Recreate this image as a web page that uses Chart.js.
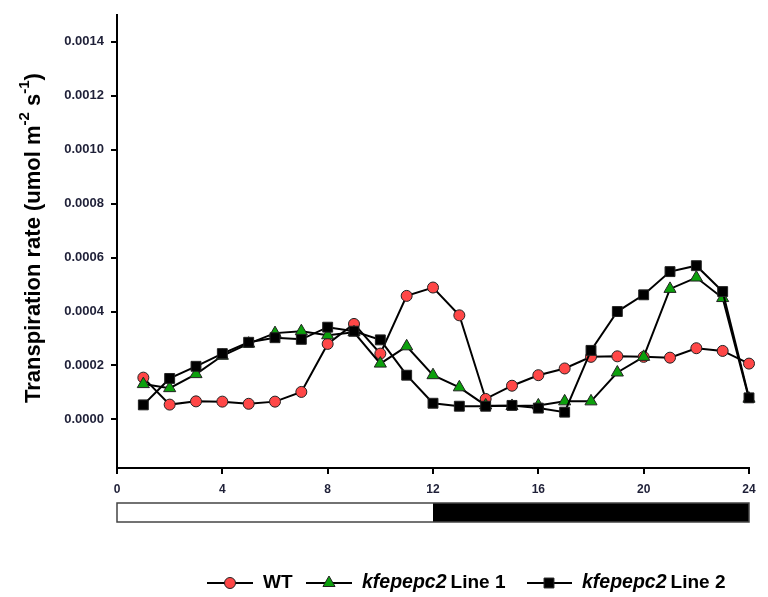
<!DOCTYPE html>
<html>
<head>
<meta charset="utf-8">
<script src="https://cdn.jsdelivr.net/npm/chart.js@4"></script>
<style>
html,body{margin:0;padding:0;background:#fff;}
#c{display:block;}
</style>
</head>
<body>
<canvas id="c" width="768" height="597"></canvas>
<script>
const hours = [1,2,3,4,5,6,7,8,9,10,11,12,13,14,15,16,17,18,19,20,21,22,23,24];
const wtValues = [0.000155,0.000055,0.000067,0.000066,0.000058,0.000066,0.000102,0.000280,0.000354,0.000244,0.000458,0.000489,0.000386,0.000076,0.000125,0.000164,0.000189,0.000232,0.000234,0.000232,0.000229,0.000264,0.000254,0.000207];
const line1Values = [0.000131,0.000116,0.000168,0.000236,0.000281,0.000320,0.000327,0.000312,0.000323,0.000207,0.000271,0.000164,0.000119,0.000052,0.000050,0.000052,0.000067,0.000067,0.000174,0.000232,0.000484,0.000526,0.000450,0.000077];
const line2Values = [0.000054,0.000152,0.000197,0.000244,0.000286,0.000303,0.000297,0.000342,0.000327,0.000295,0.000164,0.000060,0.000049,0.000049,0.000052,0.000042,0.000027,0.000256,0.000400,0.000462,0.000548,0.000570,0.000474,0.000080];
const xTickValues = [0,4,8,12,16,20,24];
const yTickValues = [0,0.0002,0.0004,0.0006,0.0008,0.0010,0.0012,0.0014];
const seriesNames = ['WT','kfepepc2','kfepepc2'];
const seriesSuffix = ['','Line 1','Line 2'];
const photoPeriods = [[0,12,'#ffffff'],[12,24,'#000000']];

const tickColor = '#1f2038';
const FONT = 'Arial, "Liberation Sans", sans-serif';

function pts(vals){ return hours.map((h,i)=>({x:h,y:vals[i]})); }

const styles = [
  {pointStyle:'circle', radius:5.5, bg:'#ff4747'},
  {pointStyle:'triangle', radius:7, bg:'#0ca00c'},
  {pointStyle:'rect', radius:7, bg:'#000000'}
];

const decor = {
  id:'decor',
  afterDraw(chart){
    const ctx = chart.ctx;
    const xs = chart.scales.x;
    // y-axis title with superscripts
    ctx.save();
    ctx.translate(34, 238);
    ctx.rotate(-Math.PI/2);
    const fs = 22, sfs = 15;
    const parts = [
      ['Transpiration rate (umol m', fs, 0],
      ['-2', sfs, -9],
      [' s', fs, 0],
      ['-1', sfs, -9],
      [')', fs, 0]
    ];
    let total = 0;
    parts.forEach(p=>{ ctx.font = 'bold '+p[1]+'px '+FONT; total += ctx.measureText(p[0]).width; });
    let px = -total/2;
    ctx.fillStyle = '#000';
    ctx.textBaseline = 'middle';
    ctx.textAlign = 'left';
    parts.forEach(p=>{ ctx.font = 'bold '+p[1]+'px '+FONT; ctx.fillText(p[0], px, p[2]); px += ctx.measureText(p[0]).width; });
    ctx.restore();

    // light / dark bar
    ctx.save();
    const top = 503, h = 19;
    photoPeriods.forEach(pp=>{
      const a = xs.getPixelForValue(pp[0]), b = xs.getPixelForValue(pp[1]);
      ctx.fillStyle = pp[2];
      ctx.fillRect(a, top, b-a, h);
    });
    const a0 = xs.getPixelForValue(photoPeriods[0][0]);
    const b0 = xs.getPixelForValue(photoPeriods[photoPeriods.length-1][1]);
    ctx.strokeStyle = '#444';
    ctx.lineWidth = 1.5;
    ctx.strokeRect(a0, top, b0-a0, h);
    ctx.restore();

    // legend
    ctx.save();
    const ly = 583;
    const items = [
      {x1:207, x2:253, mx:230, tx:263},
      {x1:306, x2:352, mx:329, tx:362},
      {x1:527, x2:572, mx:549, tx:582}
    ];
    items.forEach((it,i)=>{
      ctx.strokeStyle = '#000'; ctx.lineWidth = 2;
      ctx.beginPath(); ctx.moveTo(it.x1, ly); ctx.lineTo(it.x2, ly); ctx.stroke();
      ctx.fillStyle = styles[i].bg; ctx.strokeStyle = '#222'; ctx.lineWidth = 1;
      Chart.helpers.drawPoint(ctx, {pointStyle:styles[i].pointStyle, radius:styles[i].radius, rotation:0, borderWidth:1}, it.mx, ly);
      ctx.fillStyle = '#000';
      ctx.textBaseline = 'middle';
      ctx.textAlign = 'left';
      let tx = it.tx;
      if (i === 0) {
        ctx.font = 'bold 19px '+FONT;
        ctx.fillText(seriesNames[i], tx, ly);
      } else {
        ctx.font = 'italic bold 19.5px '+FONT;
        ctx.fillText(seriesNames[i], tx, ly);
        tx += ctx.measureText(seriesNames[i]).width + 4;
        ctx.font = 'bold 19px '+FONT;
        ctx.fillText(seriesSuffix[i], tx, ly);
      }
    });
    ctx.restore();
  }
};

const mk = (label, vals, i, order) => ({
  label, data: pts(vals), order,
  borderColor:'#000', borderWidth:2,
  pointStyle: styles[i].pointStyle, pointRadius: styles[i].radius,
  pointBackgroundColor: styles[i].bg, pointBorderColor:'#222', pointBorderWidth:1,
  tension:0, fill:false, clip:false
});

new Chart(document.getElementById('c'), {
  type:'line',
  data:{ datasets:[
    mk('WT', wtValues, 0, 2),
    mk('kfepepc2 Line 1', line1Values, 1, 1),
    mk('kfepepc2 Line 2', line2Values, 2, 0)
  ]},
  options:{
    responsive:false, animation:false, devicePixelRatio:1,
    layout:{padding:{left:0, right:19, top:11, bottom:99}},
    plugins:{legend:{display:false}, tooltip:{enabled:false}},
    scales:{
      x:{
        type:'linear', min:0, max:24,
        afterBuildTicks(s){ s.ticks = xTickValues.map(v=>({value:v})); },
        afterFit(s){ s.height = 30; },
        grid:{display:true, drawOnChartArea:false, drawTicks:true, tickLength:6, color:'#000', lineWidth:2},
        border:{display:true, color:'#000', width:2},
        ticks:{font:{family:FONT, size:12, weight:'bold'}, color:tickColor, padding:8, maxRotation:0, autoSkip:false}
      },
      y:{
        min:-0.00018, max:0.0015,
        afterBuildTicks(s){ s.ticks = yTickValues.map(v=>({value:v})); },
        afterFit(s){ s.width = 117; },
        grid:{display:true, drawOnChartArea:false, drawTicks:true, tickLength:6, color:'#000', lineWidth:2},
        border:{display:true, color:'#000', width:2},
        ticks:{font:{family:FONT, size:13, weight:'bold'}, color:tickColor, padding:7, callback:v=>v.toFixed(4)}
      }
    }
  },
  plugins:[decor]
});
</script>
</body>
</html>
